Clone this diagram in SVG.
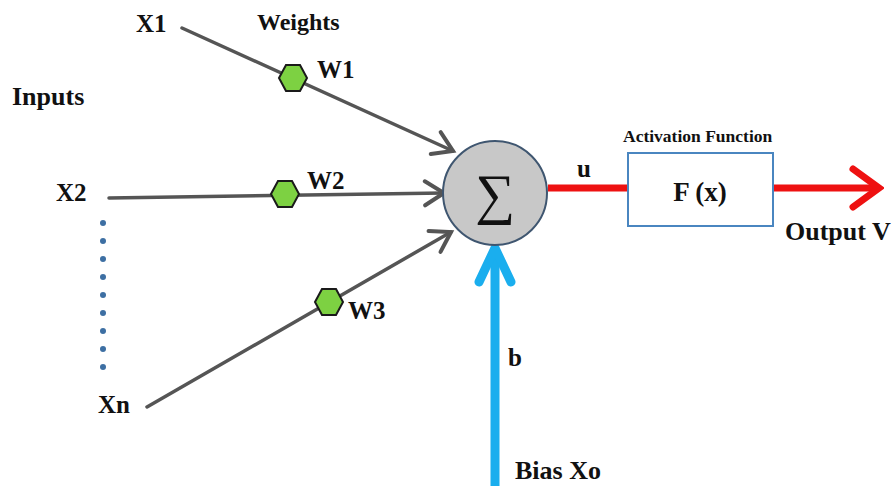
<svg xmlns="http://www.w3.org/2000/svg" width="893" height="486" viewBox="0 0 893 486">
  <style>
    .lbl { font-family: "Liberation Serif", "Times New Roman", serif; font-weight: bold; fill: #111; }
    .wire { stroke: #555; stroke-width: 3.5; fill: none; stroke-linecap: round; }
    .hex { fill: #7dd142; stroke: #1a1a1a; stroke-width: 2; }
    .dot { fill: #3d6fa3; }
  </style>
  <defs>
    <marker id="grayHead" markerUnits="userSpaceOnUse" markerWidth="30" markerHeight="30" viewBox="-24 -15 28 30" refX="0" refY="0" orient="auto">
      <path d="M -19 -12 L 0 0 L -19 12" fill="none" stroke="#555" stroke-width="4" stroke-linecap="round" stroke-linejoin="miter"/>
    </marker>
    <marker id="redHead" markerUnits="userSpaceOnUse" markerWidth="38" markerHeight="48" viewBox="-32 -24 36 48" refX="0" refY="0" orient="auto">
      <path d="M -26 -19 L 0 0 L -26 19" fill="none" stroke="#ee1111" stroke-width="7" stroke-linecap="round"/>
    </marker>
    <marker id="blueHead" markerUnits="userSpaceOnUse" markerWidth="44" markerHeight="44" viewBox="-40 -22 44 44" refX="0" refY="0" orient="auto">
      <path d="M -34 -16 L 0 0 L -34 16" fill="none" stroke="#1aaeee" stroke-width="9" stroke-linecap="round"/>
    </marker>
  </defs>

  <!-- connectors -->
  <g id="connectors">
    <line class="wire" x1="182" y1="28" x2="453" y2="151" marker-end="url(#grayHead)"/>
    <line class="wire" x1="109" y1="198" x2="444" y2="193" marker-end="url(#grayHead)"/>
    <line class="wire" x1="147" y1="407" x2="451" y2="232" marker-end="url(#grayHead)"/>
    <line x1="548" y1="188" x2="628" y2="188" stroke="#ee1111" stroke-width="7"/>
    <line x1="773" y1="188" x2="879" y2="188" stroke="#ee1111" stroke-width="7" marker-end="url(#redHead)"/>
    <line x1="495" y1="486" x2="495" y2="248" stroke="#1aaeee" stroke-width="9" marker-end="url(#blueHead)"/>
  </g>

  <!-- weights on the input lines -->
  <g id="w1">
    <polygon class="hex" points="279,78 286,65 300,65 307,78 300,91 286,91"/>
    <text class="lbl" x="317" y="78" font-size="25">W1</text>
  </g>
  <g id="w2">
    <polygon class="hex" points="271,194 278,181 292,181 299,194 292,207 278,207"/>
    <text class="lbl" x="307" y="189" font-size="25">W2</text>
  </g>
  <g id="w3">
    <polygon class="hex" points="315,302 322,289 336,289 343,302 336,315 322,315"/>
    <text class="lbl" x="348" y="319" font-size="25">W3</text>
  </g>

  <!-- input labels -->
  <g id="x1"><text class="lbl" x="136" y="32" font-size="25">X1</text></g>
  <g id="x2"><text class="lbl" x="56" y="201" font-size="25">X2</text></g>
  <g id="xn"><text class="lbl" x="98" y="413" font-size="25">Xn</text></g>
  <g id="ellipsis">
    <circle class="dot" cx="103" cy="223" r="3"/>
    <circle class="dot" cx="103" cy="241" r="3"/>
    <circle class="dot" cx="103" cy="259" r="3"/>
    <circle class="dot" cx="103" cy="277" r="3"/>
    <circle class="dot" cx="103" cy="295" r="3"/>
    <circle class="dot" cx="103" cy="313" r="3"/>
    <circle class="dot" cx="103" cy="331" r="3"/>
    <circle class="dot" cx="103" cy="349" r="3"/>
    <circle class="dot" cx="103" cy="367" r="3"/>
  </g>
  <text class="lbl" x="12" y="105" font-size="26">Inputs</text>
  <text class="lbl" x="257" y="30" font-size="24">Weights</text>

  <!-- summing junction -->
  <g id="sum">
    <circle cx="495" cy="193" r="52" fill="#c8c8c8" stroke="#3f5670" stroke-width="2"/>
    <text x="495" y="213" text-anchor="middle" font-family="Liberation Serif, serif" font-size="56" fill="#111">∑</text>
  </g>
  <text class="lbl" x="577" y="177" font-size="25">u</text>
  <text class="lbl" x="508" y="366" font-size="25">b</text>
  <text class="lbl" x="515" y="479" font-size="26">Bias Xo</text>

  <!-- activation function block -->
  <g id="activation">
    <text class="lbl" x="623" y="142" font-size="17.5">Activation Function</text>
    <rect x="628" y="153" width="145" height="73" fill="#ffffff" stroke="#4a86c0" stroke-width="2"/>
    <text class="lbl" x="700" y="201" text-anchor="middle" font-size="27">F (x)</text>
  </g>
  <text class="lbl" x="785" y="240" font-size="26">Output V</text>
</svg>
